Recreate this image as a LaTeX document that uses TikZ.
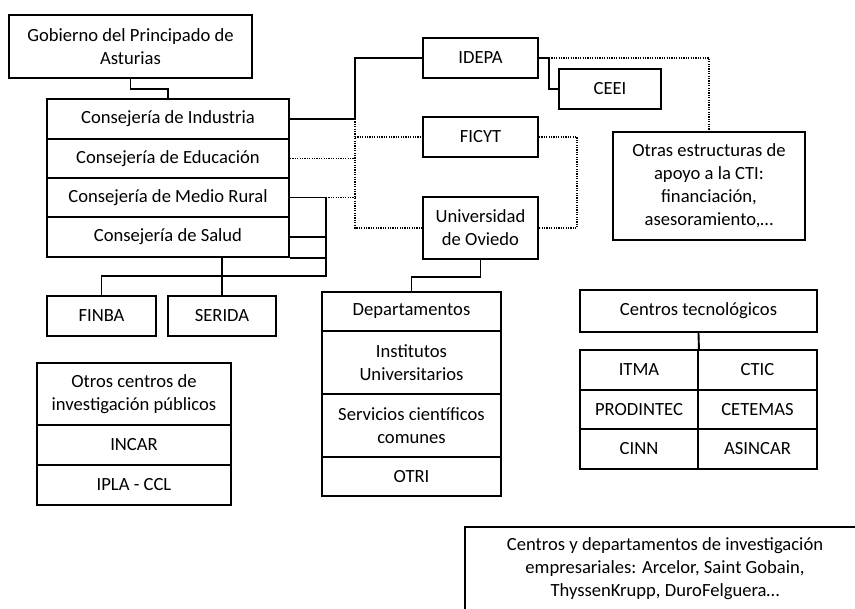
\documentclass[tikz,border=0pt]{standalone}
\usepackage{fontspec}
\setmainfont{Carlito}
\begin{document}
\begin{tikzpicture}[x=1pt,y=-1pt,
  box/.style={draw, line width=1.9pt, inner sep=0pt, align=center, fill=white,
    font=\fontsize{18.6}{23}\selectfont},
  solidln/.style={line width=1.9pt},
  dotln/.style={line width=1.2pt, dash pattern=on 1.2pt off 1.2pt}]
\useasboundingbox (0,0) rectangle (855,609);
\clip (0,0) rectangle (855,609);

% coordinates for connector columns
\coordinate (xv) at (355,0);
\coordinate (xb) at (326,0);
\coordinate (hb) at (0,276);

% boxes
\node[box, minimum width=243pt, minimum height=63pt] (gob) at (130.5,46.5) {Gobierno del Principado de\\Asturias};
\node[box, minimum width=242pt, minimum height=40pt] (ind) at (168,119) {Consejería de Industria};
\node[box, minimum width=242pt, minimum height=39pt] (edu) at (168,158.5) {Consejería de Educación};
\node[box, minimum width=242pt, minimum height=39pt] (med) at (168,197.5) {Consejería de Medio Rural};
\node[box, minimum width=242pt, minimum height=40pt] (sal) at (168,237) {Consejería de Salud};

\node[box, minimum width=115pt, minimum height=40pt] (idepa) at (480.5,58) {IDEPA};
\node[box, minimum width=102pt, minimum height=40pt] (ceei) at (610,89) {CEEI};
\node[box, minimum width=115pt, minimum height=40pt] (ficyt) at (480.5,137) {FICYT};
\node[box, minimum width=115pt, minimum height=62pt] (uni) at (480.5,228) {Universidad\\de Oviedo};
\node[box, minimum width=192pt, minimum height=108pt] (otras) at (709,186) {Otras estructuras de\\apoyo a la CTI:\\financiación,\\asesoramiento,…};

\node[box, minimum width=109pt, minimum height=40pt] (finba) at (101.5,316) {FINBA};
\node[box, minimum width=108pt, minimum height=40pt] (serida) at (222,316) {SERIDA};

\node[box, minimum width=194pt, minimum height=62pt] (otros) at (134,394) {Otros centros de\\investigación públicos};
\node[box, minimum width=194pt, minimum height=40pt] (incar) at (134,445) {INCAR};
\node[box, minimum width=194pt, minimum height=40pt] (ipla) at (134,485) {IPLA - CCL};

\node[box, minimum width=179pt, minimum height=39pt] (dep) at (411.5,311.5) {Departamentos};
\node[box, minimum width=179pt, minimum height=63pt] (inst) at (411.5,362.5) {Institutos\\Universitarios};
\node[box, minimum width=179pt, minimum height=63pt] (serv) at (411.5,425.5) {Servicios científicos\\comunes};
\node[box, minimum width=179pt, minimum height=39pt] (otri) at (411.5,476.5) {OTRI};

\node[box, minimum width=237pt, minimum height=42pt] (ctec) at (698.5,311) {Centros tecnológicos};
\node[box, minimum width=118pt, minimum height=40pt] (itma) at (639,370) {ITMA};
\node[box, minimum width=119pt, minimum height=40pt] (ctic) at (757.5,370) {CTIC};
\node[box, minimum width=118pt, minimum height=39pt] (prod) at (639,409.5) {PRODINTEC};
\node[box, minimum width=119pt, minimum height=39pt] (cetemas) at (757.5,409.5) {CETEMAS};
\node[box, minimum width=118pt, minimum height=40pt] (cinn) at (639,449) {CINN};
\node[box, minimum width=119pt, minimum height=40pt] (asincar) at (757.5,449) {ASINCAR};

\node[box, minimum width=400pt, minimum height=84pt] (emp) at (665,569) {Centros y departamentos de investigación\\empresariales: Arcelor, Saint Gobain,\\ThyssenKrupp, DuroFelguera…};

% connectors between named nodes
\draw[solidln] (gob.south) -- ++(0,10) -| (ind.north);
\draw[solidln] (ind.east) -- (ind.east -| xv) |- (idepa.west);
\draw[dotln] (ind.east -| xv) -- (uni.west -| xv) -- (uni.west);
\draw[dotln] (ficyt.west -| xv) -- (ficyt.west);
\draw[dotln] (edu.east) -- (edu.east -| xv);
\draw[dotln] (med.east -| xb) -- (med.east -| xv);
\draw[solidln] (med.east) -- (med.east -| xb) -- (xb |- hb) -| (finba.north);
\draw[solidln] (sal.east) -- (sal.east -| xb);
\draw[solidln] (sal.south east) -- (sal.south east -| xb);
\draw[solidln] (serida.north |- sal.south) -- (serida.north);
\draw[solidln] (idepa.east) -- ++(10,0) |- (ceei.west);
\draw[dotln] ([xshift=10pt]idepa.east) -| (otras.north);
\draw[dotln] (ficyt.east) -- ++(38,0) |- (uni.east);
\draw[solidln] (uni.south) -- ++(0,17) -| (dep.north);
\draw[solidln] (ctec.south) -- (itma.north east);
\end{tikzpicture}
\end{document}
